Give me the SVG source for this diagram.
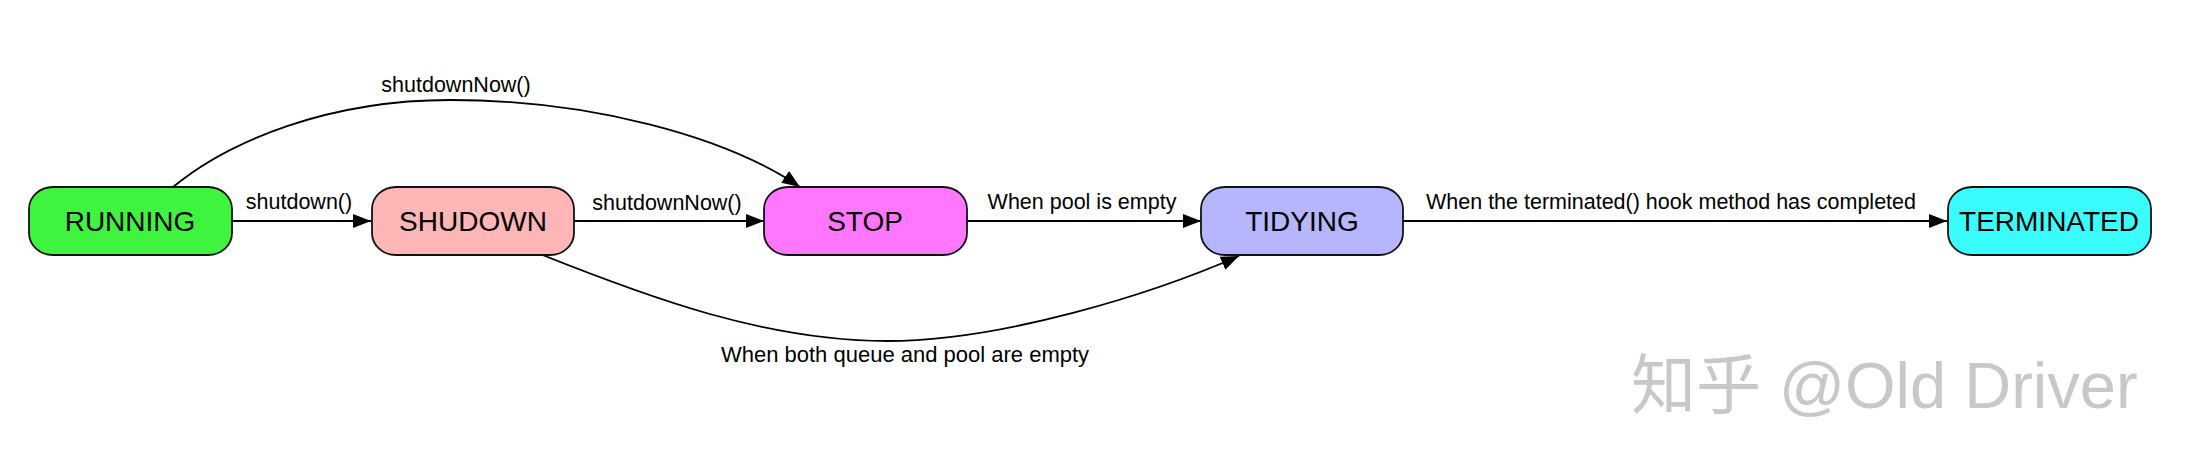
<svg xmlns="http://www.w3.org/2000/svg" width="2194" height="468" viewBox="0 0 2194 468">
<style>
.node rect{stroke:#111;stroke-width:1.8}
.node text{font-family:"Liberation Sans",Arial,sans-serif;font-size:28px;fill:#000;text-anchor:middle}
.edge{fill:none;stroke:#000;stroke-width:1.8}
.lbl{font-family:"Liberation Sans",Arial,sans-serif;font-size:21.5px;fill:#000;text-anchor:middle}
.wm{font-family:"Liberation Sans","Noto Sans CJK SC",sans-serif;font-size:65px;fill:#c8c8c8}
</style>
<defs>
<marker id="arr" markerUnits="userSpaceOnUse" markerWidth="20" markerHeight="15" refX="18" refY="7" orient="auto">
<path d="M0,0 L18,7 L0,14 z" fill="#000"/>
</marker>
</defs>
<rect width="2194" height="468" fill="#fff"/>
<g id="connectors">
<path class="edge" d="M232,221 H371" marker-end="url(#arr)"/>
<path class="edge" d="M574,221 H764" marker-end="url(#arr)"/>
<path class="edge" d="M967,221 H1201" marker-end="url(#arr)"/>
<path class="edge" d="M1403,221 H1947" marker-end="url(#arr)"/>
<path class="edge" d="M173,187 C230,140 330,100 450,100 C590,100 725,136 800,187" marker-end="url(#arr)"/>
<path class="edge" d="M540,254 C650,298 767,341 887,341 C1000,341 1150,295 1239,256" marker-end="url(#arr)"/>
<text class="lbl" x="905" y="362" style="font-size:22px">When both queue and pool are empty</text>
<text class="lbl" x="299" y="209">shutdown()</text>
<text class="lbl" x="667" y="210">shutdownNow()</text>
<text class="lbl" x="1082" y="209">When pool is empty</text>
<text class="lbl" x="1671" y="209">When the terminated() hook method has completed</text>
<text class="lbl" x="456" y="92">shutdownNow()</text>
</g>
<g id="RUNNING" class="node"><rect x="29" y="187" width="203" height="68" rx="24" ry="22" fill="#3ef43e"/><text x="130" y="231">RUNNING</text></g>
<g id="SHUDOWN" class="node"><rect x="372" y="187" width="202" height="68" rx="24" ry="22" fill="#ffb6b6"/><text x="473" y="231">SHUDOWN</text></g>
<g id="STOP" class="node"><rect x="764" y="187" width="203" height="68" rx="24" ry="22" fill="#ff77ff"/><text x="865" y="231">STOP</text></g>
<g id="TIDYING" class="node"><rect x="1201" y="187" width="202" height="68" rx="24" ry="22" fill="#b6b6ff"/><text x="1302" y="231">TIDYING</text></g>
<g id="TERMINATED" class="node"><rect x="1948" y="187" width="203" height="68" rx="24" ry="22" fill="#3afcfc"/><text x="2049" y="231">TERMINATED</text></g>
<text class="wm" x="1631" y="408">知乎 @Old Driver</text>
</svg>
